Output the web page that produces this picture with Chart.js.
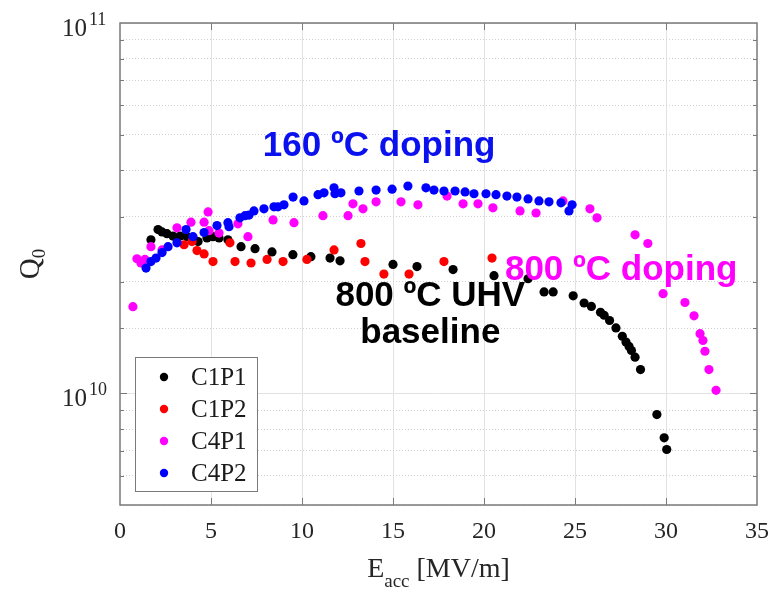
<!DOCTYPE html>
<html><head><meta charset="utf-8">
<script src="https://cdn.jsdelivr.net/npm/chart.js@4/dist/chart.umd.min.js"></script>
<style>html,body{margin:0;padding:0;background:#fff;}#wrap{width:771px;height:593px;}</style>
</head><body><div id="wrap"><canvas id="c" width="771" height="593"></canvas></div>
<script>
// ---- data (Q0 values in units of 1e10) ----
const Q_UNIT = 1e10;
const seriesNames = ['C1P1', 'C1P2', 'C4P1', 'C4P2'];
const seriesColors = ['#000000', '#ff0000', '#ff00ff', '#0000ff'];

const c1p1E = [1.70,2.09,2.31,2.58,2.91,3.30,3.68,4.01,4.29,4.78,5.11,5.44,5.93,6.65,7.42,8.35,9.50,10.49,11.54,12.09,15.0,16.32,18.3,20.55,22.42,23.3,23.8,24.9,25.5,25.9,26.4,26.6,26.9,27.25,27.6,27.8,27.97,28.1,28.3,28.6,29.5,29.9,30.04];
const c1p1Q = [2.60,2.77,2.73,2.70,2.66,2.66,2.65,2.63,2.57,2.63,2.65,2.63,2.60,2.49,2.46,2.41,2.37,2.34,2.32,2.28,2.23,2.20,2.16,2.08,2.04,1.88,1.88,1.835,1.755,1.718,1.656,1.626,1.574,1.503,1.427,1.377,1.34,1.306,1.253,1.16,0.877,0.759,0.706];

const c1p2E = [3.52,3.96,4.23,4.62,5.11,6.04,6.32,7.2,8.08,8.96,10.27,11.76,13.24,13.46,14.5,15.88,17.8,20.44];
const c1p2Q = [2.52,2.57,2.43,2.38,2.27,2.55,2.27,2.25,2.30,2.27,2.30,2.44,2.54,2.27,2.10,2.10,2.27,2.32];

const c4p1E = [0.71,0.93,1.15,1.37,1.70,2.31,3.13,3.90,4.62,4.84,4.89,5.44,6.48,7.03,8.41,9.56,11.15,12.53,12.8,13.35,14.07,15.44,16.37,17.97,18.85,19.67,20.49,21.98,22.86,24.34,25.82,26.21,28.3,29.0,29.84,31.04,31.54,31.87,32.03,32.14,32.36,32.75];
const c4p1Q = [1.715,2.31,2.25,2.30,2.49,2.44,2.80,2.90,2.90,3.09,2.75,2.71,2.87,2.65,2.94,2.89,3.02,3.02,3.25,3.15,3.29,3.29,3.23,3.41,3.25,3.25,3.17,3.11,3.07,3.31,3.15,2.98,2.68,2.54,1.86,1.76,1.62,1.45,1.39,1.30,1.16,1.02];

const c4p2E = [1.43,1.70,1.98,2.31,2.64,3.13,3.63,4.01,4.62,5.33,5.93,5.99,6.59,6.87,7.09,7.36,7.91,8.46,8.68,9.01,9.51,10.11,10.88,11.21,11.76,11.81,12.14,13.13,14.07,14.95,15.82,16.81,17.25,17.8,18.41,18.96,19.45,20.11,20.66,21.26,21.81,22.42,23.02,23.57,24.23,24.84,24.67];
const c4p2Q = [2.18,2.27,2.32,2.40,2.49,2.55,2.77,2.65,2.72,2.84,2.89,2.82,2.98,3.02,3.03,3.11,3.15,3.19,3.19,3.23,3.39,3.31,3.44,3.48,3.59,3.46,3.48,3.52,3.54,3.56,3.63,3.59,3.54,3.52,3.52,3.50,3.46,3.46,3.44,3.41,3.39,3.35,3.31,3.29,3.27,3.23,3.11];

const xTickValues = [0, 5, 10, 15, 20, 25, 30, 35];
const yDecadeExponents = [10, 11];
const annotationTexts = ['160 ºC doping', '800 ºC doping', '800 ºC UHV', 'baseline'];
const xTitle = ['E', 'acc', ' [MV/m]'];
const yTitle = ['Q', '0'];

// ---- build ----
const allE = [c1p1E, c1p2E, c4p1E, c4p2E];
const allQ = [c1p1Q, c1p2Q, c4p1Q, c4p2Q];
const drawOrder = [3, 2, 1, 0];
const datasets = seriesNames.map((name, i) => ({
  label: name,
  data: allE[i].map((e, k) => ({x: e, y: allQ[i][k] * Q_UNIT})),
  backgroundColor: seriesColors[i],
  borderColor: seriesColors[i],
  pointRadius: 4.6,
  pointBorderWidth: 0,
  pointHoverRadius: 4.6,
  showLine: false,
  order: drawOrder[i]
}));

const isDecade = v => Math.abs(Math.log10(v) - Math.round(Math.log10(v))) < 1e-6;
const SERIF = '"Liberation Serif", "DejaVu Serif", serif';
const SANS = '"Liberation Sans", Arial, sans-serif';
const FRAME = '#7a7a7a';

const decor = {
  id: 'decor',
  afterDraw(chart) {
    const {ctx, chartArea: a, scales: {x, y}} = chart;
    ctx.save();
    const line = (x1, y1, x2, y2) => { ctx.beginPath(); ctx.moveTo(x1, y1); ctx.lineTo(x2, y2); ctx.stroke(); };
    // inside tick marks
    ctx.strokeStyle = FRAME; ctx.lineWidth = 1;
    x.ticks.forEach(t => {
      const px = Math.round(x.getPixelForValue(t.value)) + 0.5;
      if (px <= a.left + 2 || px >= a.right - 2) return;
      line(px, a.bottom, px, a.bottom - 7);
      line(px, a.top, px, a.top + 7);
    });
    y.ticks.forEach(t => {
      const py = Math.round(y.getPixelForValue(t.value)) + 0.5;
      if (py <= a.top + 2 || py >= a.bottom - 2) return;
      const len = isDecade(t.value) ? 7 : 4;
      line(a.left, py, a.left + len, py);
      line(a.right, py, a.right - len, py);
    });
    // frame
    ctx.lineWidth = 1.5;
    ctx.strokeRect(a.left, a.top, a.right - a.left, a.bottom - a.top);

    // y decade labels 10^n
    ctx.fillStyle = '#262626';
    yDecadeExponents.forEach(n => {
      const py = y.getPixelForValue(Math.pow(10, n));
      ctx.font = '25px ' + SERIF;
      ctx.textAlign = 'right'; ctx.textBaseline = 'alphabetic';
      ctx.fillText('10', a.left - 33, py + 13);
      ctx.font = '18px ' + SERIF;
      ctx.textAlign = 'left';
      ctx.fillText(String(n), a.left - 31, py + 2);
    });

    // y title Q_0
    ctx.save();
    ctx.translate(39, (a.top + a.bottom) / 2);
    ctx.rotate(-Math.PI / 2);
    ctx.font = '29px ' + SERIF;
    const wQ = ctx.measureText(yTitle[0]).width;
    ctx.font = '19px ' + SERIF;
    const w0 = ctx.measureText(yTitle[1]).width;
    const sx = -(wQ + w0) / 2;
    ctx.textAlign = 'left'; ctx.textBaseline = 'alphabetic';
    ctx.font = '29px ' + SERIF;
    ctx.fillText(yTitle[0], sx, 0);
    ctx.font = '19px ' + SERIF;
    ctx.fillText(yTitle[1], sx + wQ, 6);
    ctx.restore();

    // x title E_acc [MV/m]
    ctx.font = '28px ' + SERIF;
    const wE = ctx.measureText(xTitle[0]).width;
    const wU = ctx.measureText(xTitle[2]).width;
    ctx.font = '19px ' + SERIF;
    const wA = ctx.measureText(xTitle[1]).width;
    let tx = (a.left + a.right) / 2 - (wE + wA + wU) / 2;
    ctx.textAlign = 'left';
    ctx.font = '28px ' + SERIF;
    ctx.fillText(xTitle[0], tx, 577);
    ctx.font = '19px ' + SERIF;
    ctx.fillText(xTitle[1], tx + wE, 587);
    ctx.font = '28px ' + SERIF;
    ctx.fillText(xTitle[2], tx + wE + wA, 577);

    // annotations (anchored in data coordinates)
    ctx.font = 'bold 35px ' + SANS;
    ctx.textAlign = 'left';
    ctx.fillStyle = '#0a10ee';
    ctx.fillText(annotationTexts[0], x.getPixelForValue(7.85), y.getPixelForValue(4.37e10));
    ctx.fillStyle = '#ff00ff';
    ctx.fillText(annotationTexts[1], x.getPixelForValue(21.15), y.getPixelForValue(2.03e10));
    ctx.fillStyle = '#000000';
    ctx.textAlign = 'center';
    const cx = x.getPixelForValue(17.05);
    ctx.fillText(annotationTexts[2], cx, y.getPixelForValue(1.72e10));
    ctx.fillText(annotationTexts[3], cx, y.getPixelForValue(1.37e10));

    // legend box
    const lx = 135, ly = 357, lw = 122, lh = 134;
    ctx.fillStyle = '#ffffff';
    ctx.fillRect(lx, ly, lw, lh);
    ctx.strokeStyle = FRAME; ctx.lineWidth = 1;
    ctx.strokeRect(lx + 0.5, ly + 0.5, lw, lh);
    ctx.font = '25px ' + SERIF;
    ctx.textAlign = 'left'; ctx.textBaseline = 'middle';
    chart.data.datasets.forEach((ds, i) => {
      const yy = ly + 20 + i * 32;
      ctx.fillStyle = ds.backgroundColor;
      ctx.beginPath(); ctx.arc(lx + 29, yy, 4.2, 0, Math.PI * 2); ctx.fill();
      ctx.fillStyle = '#1a1a1a';
      ctx.fillText(ds.label, lx + 56, yy + 1);
    });
    ctx.restore();
  }
};

new Chart(document.getElementById('c'), {
  type: 'scatter',
  data: {datasets},
  options: {
    responsive: false,
    animation: false,
    devicePixelRatio: 1,
    layout: {padding: {left: 120, right: 14, top: 23, bottom: 0}},
    plugins: {legend: {display: false}, tooltip: {enabled: false}},
    events: [],
    scales: {
      x: {
        type: 'linear', min: 0, max: 35,
        afterFit: s => { s.height = 88; s.paddingLeft = 0; s.paddingRight = 0; },
        afterBuildTicks: s => { s.ticks = xTickValues.map(v => ({value: v})); },
        border: {display: false},
        grid: {
          drawTicks: false,
          color: c => (c.tick && c.tick.value > 0 && c.tick.value < 35) ? '#e2e2e2' : 'rgba(0,0,0,0)',
          lineWidth: 1
        },
        ticks: {
          padding: 12, autoSkip: false, maxRotation: 0,
          color: '#262626',
          font: {family: SERIF, size: 24},
          callback: v => String(v)
        }
      },
      y: {
        type: 'logarithmic', min: 5e9, max: 1e11,
        afterFit: s => { s.width = 0; s.paddingTop = 0; s.paddingBottom = 0; },
        border: {display: false, dash: c => (c.tick && !isDecade(c.tick.value)) ? [1, 2] : []},
        grid: {
          drawTicks: false,
          color: c => c.tick ? (isDecade(c.tick.value) ? '#e2e2e2' : '#cfcfcf') : 'rgba(0,0,0,0)',
          lineWidth: 1
        },
        ticks: {display: false, autoSkip: false}
      }
    }
  },
  plugins: [decor]
});
</script>
</body></html>
